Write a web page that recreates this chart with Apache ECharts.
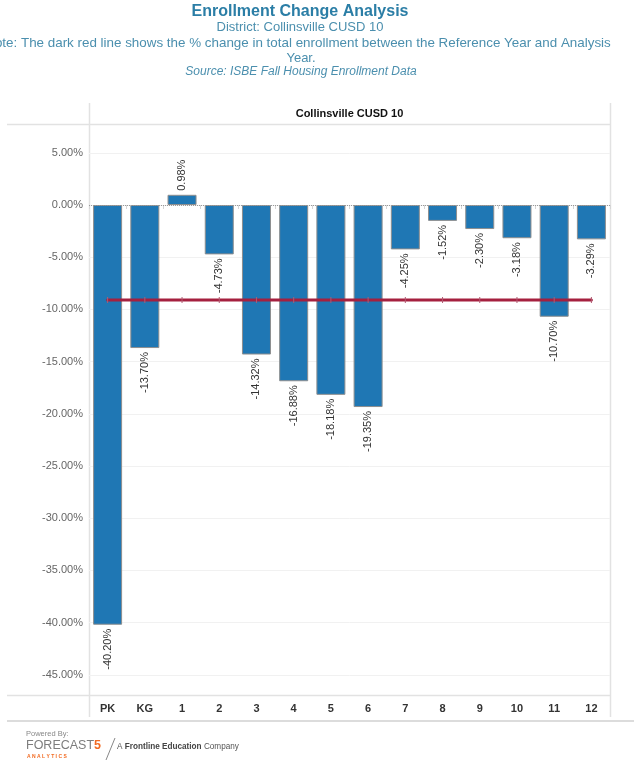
<!DOCTYPE html>
<html>
<head>
<meta charset="utf-8">
<script src="https://cdn.jsdelivr.net/npm/echarts@6/dist/echarts.min.js"></script>
<style>
  html, body { margin: 0; padding: 0; background: #fff; }
  #chart { width: 634px; height: 761px; }
</style>
</head>
<body>
<div id="chart"></div>
<script>
// Grade levels on the category axis
const categories = ['PK', 'KG', '1', '2', '3', '4', '5', '6', '7', '8', '9', '10', '11', '12'];
// % change in enrollment per grade
const changeValues = [-40.20, -13.70, 0.98, -4.73, -14.32, -16.88, -18.18, -19.35, -4.25, -1.52, -2.30, -3.18, -10.70, -3.29];
// % change in total enrollment (dark red reference line)
const totalChange = [-9.10, -9.10, -9.10, -9.10, -9.10, -9.10, -9.10, -9.10, -9.10, -9.10, -9.10, -9.10, -9.10, -9.10];
// Value-axis tick labels
const yTickValues = [5, 0, -5, -10, -15, -20, -25, -30, -35, -40, -45];

const chart = echarts.init(document.getElementById('chart'), null, { renderer: 'canvas' });

const fmtPct = v => v.toFixed(2) + '%';

const barData = changeValues.map(v => ({
  value: v,
  label: v >= 0
    ? { position: 'top', align: 'left', verticalAlign: 'middle' }
    : { position: 'bottom', align: 'right', verticalAlign: 'middle' }
}));

const frame = '#e2e2e2';
const headColor = '#4b8fae';

chart.setOption({
  animation: false,
  backgroundColor: '#ffffff',
  textStyle: { fontFamily: 'Liberation Sans, Arial, sans-serif' },
  grid: { left: 89, right: 24, top: 124, bottom: 66, containLabel: false },
  xAxis: {
    type: 'category',
    data: categories,
    axisLine: { show: false },
    axisTick: { show: true, length: 4, lineStyle: { color: '#d6d6d6' } },
    axisLabel: { color: '#333', fontSize: 11, fontWeight: 'bold', margin: 8 },
    splitLine: { show: false }
  },
  yAxis: {
    type: 'value',
    min: -46.93,
    max: 7.76,
    axisLine: { show: false },
    axisTick: { show: false, customValues: yTickValues },
    axisLabel: { customValues: yTickValues, formatter: fmtPct, color: '#666', fontSize: 11, margin: 6 },
    splitLine: { show: true, lineStyle: { color: '#f1f1f1', width: 1 } }
  },
  series: [
    {
      type: 'bar',
      data: barData,
      barWidth: 29,
      itemStyle: { color: '#1f77b4', borderColor: '#8e8e8e', borderWidth: 1 },
      label: {
        show: true,
        rotate: 90,
        distance: 4,
        color: '#333',
        fontSize: 11,
        formatter: p => fmtPct(p.value)
      },
      markLine: {
        silent: true,
        symbol: 'none',
        label: { show: false },
        lineStyle: { color: '#9a9a9a', type: 'dotted', width: 1 },
        data: [{ yAxis: 0 }]
      },
      z: 2
    },
    {
      type: 'line',
      data: totalChange,
      symbol: 'rect',
      symbolSize: [1, 6],
      itemStyle: { color: '#b05a72' },
      lineStyle: { color: '#a5203f', width: 3, cap: 'round' },
      z: 3
    }
  ],
  graphic: [
    // Title block
    { type: 'text', x: 300, y: 12, style: { text: 'Enrollment Change Analysis', font: 'bold 16px Liberation Sans, Arial', fill: '#2b7ea6', align: 'center', verticalAlign: 'middle' } },
    { type: 'text', x: 300, y: 27, style: { text: 'District: Collinsville CUSD 10', font: '13px Liberation Sans, Arial', fill: headColor, align: 'center', verticalAlign: 'middle' } },
    { type: 'text', x: 298, y: 43, style: { text: 'Note: The dark red line shows the % change in total enrollment between the Reference Year and Analysis', font: '13.4px Liberation Sans, Arial', fill: headColor, align: 'center', verticalAlign: 'middle' } },
    { type: 'text', x: 301, y: 58, style: { text: 'Year.', font: '13px Liberation Sans, Arial', fill: headColor, align: 'center', verticalAlign: 'middle' } },
    { type: 'text', x: 301, y: 72, style: { text: 'Source: ISBE Fall Housing Enrollment Data', font: 'italic 12px Liberation Sans, Arial', fill: headColor, align: 'center', verticalAlign: 'middle' } },
    // Pane header
    { type: 'text', x: 349.5, y: 114, style: { text: 'Collinsville CUSD 10', font: 'bold 11px Liberation Sans, Arial', fill: '#111', align: 'center', verticalAlign: 'middle' } },
    // Pane frame
    { type: 'line', shape: { x1: 7, y1: 124.5, x2: 610, y2: 124.5 }, style: { stroke: frame, lineWidth: 1.5 } },
    { type: 'line', shape: { x1: 89.5, y1: 103, x2: 89.5, y2: 717 }, style: { stroke: frame, lineWidth: 1.5 } },
    { type: 'line', shape: { x1: 610.5, y1: 103, x2: 610.5, y2: 717 }, style: { stroke: frame, lineWidth: 1.5 } },
    { type: 'line', shape: { x1: 7, y1: 695.5, x2: 610, y2: 695.5 }, style: { stroke: frame, lineWidth: 1.5 } },
    { type: 'line', shape: { x1: 7, y1: 721, x2: 634, y2: 721 }, style: { stroke: '#dcdcdc', lineWidth: 2 } },
    // Footer branding
    { type: 'text', x: 26, y: 734, style: { text: 'Powered By:', font: '7.5px Liberation Sans, Arial', fill: '#888', verticalAlign: 'middle' } },
    { type: 'text', x: 26, y: 746, style: {
        text: '{a|FORECAST}{b|5}',
        verticalAlign: 'middle',
        rich: {
          a: { font: '12.5px Liberation Sans, Arial', fill: '#7d7d7d' },
          b: { font: 'bold 12.5px Liberation Sans, Arial', fill: '#f26a21' }
        }
      } },
    { type: 'text', x: 27, y: 757, style: { text: 'A N A L Y T I C S', font: 'bold 5px Liberation Sans, Arial', fill: '#f26a21', verticalAlign: 'middle' } },
    { type: 'line', shape: { x1: 115, y1: 738, x2: 106, y2: 760 }, style: { stroke: '#888', lineWidth: 1 } },
    { type: 'text', x: 117, y: 747, style: {
        text: '{a|A }{b|Frontline Education}{a| Company}',
        verticalAlign: 'middle',
        rich: {
          a: { font: '8.2px Liberation Sans, Arial', fill: '#555' },
          b: { font: 'bold 8.2px Liberation Sans, Arial', fill: '#444' }
        }
      } }
  ]
});
</script>
</body>
</html>
